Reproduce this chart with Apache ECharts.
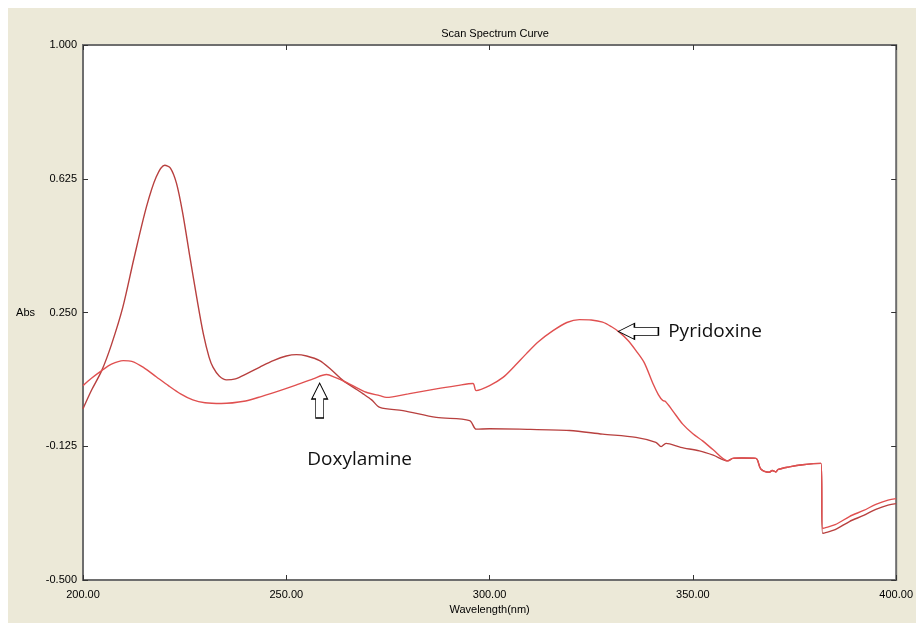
<!DOCTYPE html>
<html>
<head>
<meta charset="utf-8">
<script src="https://cdn.jsdelivr.net/npm/echarts@6/dist/echarts.min.js"></script>
<style>
  html, body { margin: 0; padding: 0; background: #fff; }
  #chart { width: 916px; height: 623px; }
</style>
</head>
<body>
<div id="chart"></div>
<script>
// tick labels
const xTicks = [200, 250, 300, 350, 400]
const yTicks = [-0.5, -0.125, 0.25, 0.625, 1.0]

// spectrum with the big 220 nm peak
const spec1Wl = [200, 202, 204.6, 207, 209.8, 212.5, 215.6, 218, 220.1, 221.5, 223, 224.5, 226.3, 228, 229.6, 231, 232, 233.5, 235.3, 237.5, 240.2, 243.5, 246.8, 250, 252.5, 255, 258.2, 261, 264, 266.5, 268.9, 271, 273, 278.7, 286.9, 295.1, 296.7, 300, 307.4, 319.7, 327.8, 336, 340.9, 342.2, 343.4, 347, 351.6, 355, 358.6, 359.8, 362, 365.5, 366.7, 368.8, 369.5, 370.4, 371, 373.7, 377, 381.5, 381.9, 385, 388.5, 392, 395, 398, 400]
const spec1Abs = [-0.02, 0.03, 0.087, 0.16, 0.265, 0.4, 0.546, 0.63, 0.663, 0.655, 0.612, 0.53, 0.405, 0.29, 0.19, 0.125, 0.096, 0.072, 0.061, 0.064, 0.078, 0.097, 0.115, 0.128, 0.132, 0.128, 0.115, 0.09, 0.059, 0.04, 0.022, 0.005, -0.016, -0.025, -0.044, -0.053, -0.077, -0.076, -0.077, -0.081, -0.091, -0.1, -0.114, -0.126, -0.117, -0.128, -0.138, -0.15, -0.166, -0.159, -0.158, -0.159, -0.189, -0.198, -0.193, -0.197, -0.19, -0.183, -0.177, -0.173, -0.369, -0.359, -0.336, -0.319, -0.302, -0.29, -0.286]

// spectrum with the 323 nm band
const spec2Wl = [200, 202, 204.6, 207, 209.9, 212, 215, 218, 221, 224, 227, 230, 234, 240, 244, 248.4, 252, 256.6, 259.9, 262, 264.8, 268, 270, 273, 274.6, 280, 286.9, 292, 295.9, 296.7, 300, 303.3, 306, 309, 312, 315.6, 319, 322.1, 325, 327.8, 330, 331.9, 334, 336, 338, 340.2, 341.5, 342.6, 343.2, 345, 347.5, 350, 352.4, 355, 358.6, 359.8, 362, 365.5, 366.7, 368.8, 369.5, 370.4, 371, 373.7, 377, 381.5, 381.9, 385, 388.5, 392, 395, 398, 400]
const spec2Abs = [0.045, 0.065, 0.087, 0.105, 0.115, 0.113, 0.095, 0.07, 0.045, 0.022, 0.005, -0.003, -0.005, 0.002, 0.015, 0.031, 0.045, 0.064, 0.076, 0.068, 0.054, 0.035, 0.025, 0.017, 0.012, 0.022, 0.036, 0.045, 0.051, 0.031, 0.045, 0.068, 0.098, 0.134, 0.168, 0.199, 0.222, 0.23, 0.229, 0.223, 0.21, 0.195, 0.172, 0.143, 0.11, 0.05, 0.02, 0.003, 0.001, -0.025, -0.063, -0.09, -0.11, -0.135, -0.166, -0.159, -0.158, -0.159, -0.189, -0.198, -0.193, -0.197, -0.19, -0.183, -0.177, -0.173, -0.355, -0.345, -0.322, -0.305, -0.288, -0.276, -0.272]

const spec1 = spec1Wl.map((w, i) => [w, spec1Abs[i]])
const spec2 = spec2Wl.map((w, i) => [w, spec2Abs[i]])

const labelFont = { fontFamily: 'Liberation Sans', fontSize: 11, color: '#000' }
const noteFont = { fontFamily: 'Open Sans', fontSize: 19, color: '#111' }

var myChart = echarts.init(document.getElementById('chart'))
var option = {
  animation: false,
  backgroundColor: '#fff',
  graphic: [
    { type: 'rect', z: -10, shape: { x: 8, y: 8, width: 908, height: 615 }, style: { fill: '#ece9d8' } }
  ],
  title: {
    text: 'Scan Spectrum Curve',
    left: 490,
    top: 23,
    textAlign: 'center',
    textStyle: { fontFamily: 'Liberation Sans', fontSize: 11, fontWeight: 'normal', color: '#000' }
  },
  grid: {
    left: 83, right: 19, top: 45, bottom: 43,
    show: true,
    backgroundColor: '#fff',
    borderColor: '#6e6e6e',
    borderWidth: 2
  },
  xAxis: [
    {
      type: 'value', min: 200, max: 400,
      name: 'Wavelength(nm)', nameLocation: 'middle', nameGap: 21,
      nameTextStyle: labelFont,
      axisLine: { show: false, onZero: false },
      axisTick: { show: true, inside: true, length: 5, customValues: xTicks, lineStyle: { color: '#333' } },
      axisLabel: { customValues: xTicks, margin: 9, formatter: v => v.toFixed(2), ...labelFont },
      splitLine: { show: false }
    },
    {
      type: 'value', min: 200, max: 400, position: 'top',
      axisLine: { show: false, onZero: false },
      axisTick: { show: true, inside: true, length: 5, customValues: xTicks, lineStyle: { color: '#333' } },
      axisLabel: { show: false },
      splitLine: { show: false }
    }
  ],
  yAxis: [
    {
      type: 'value', min: -0.5, max: 1.0,
      name: 'Abs', nameLocation: 'middle', nameGap: 48, nameRotate: 0,
      nameTextStyle: labelFont,
      axisLine: { show: false, onZero: false },
      axisTick: { show: true, inside: true, length: 5, customValues: yTicks, lineStyle: { color: '#333' } },
      axisLabel: { customValues: yTicks, margin: 6, formatter: v => v.toFixed(3), ...labelFont },
      splitLine: { show: false }
    },
    {
      type: 'value', min: -0.5, max: 1.0, position: 'right',
      axisLine: { show: false, onZero: false },
      axisTick: { show: true, inside: true, length: 5, customValues: yTicks, lineStyle: { color: '#333' } },
      axisLabel: { show: false },
      splitLine: { show: false }
    }
  ],
  series: [
    {
      type: 'line',
      data: spec1,
      showSymbol: false,
      smooth: 0.3,
      lineStyle: { color: '#b8403f', width: 1.4 }
    },
    {
      type: 'line',
      data: spec2,
      showSymbol: false,
      smooth: 0.3,
      lineStyle: { color: '#e05050', width: 1.4 },
      markPoint: {
        silent: true,
        symbolKeepAspect: false,
        itemStyle: { color: '#fff', borderColor: '#000', borderWidth: 1 },
        data: [
          {
            coord: [336.6, 0.197],
            symbol: 'path://M0,8 L16,0 L16,4 L40,4 L40,12 L16,12 L16,16 Z',
            symbolSize: [40, 16],
            label: { show: true, position: 'right', distance: 9, formatter: 'Pyridoxine', ...noteFont }
          },
          {
            coord: [258.2, 0.003],
            symbol: 'path://M8,0 L16,16 L12,16 L12,35 L4,35 L4,16 L0,16 Z',
            symbolSize: [16, 35],
            label: { show: true, position: 'bottom', distance: 31, offset: [40, 0], formatter: 'Doxylamine', ...noteFont }
          }
        ]
      }
    }
  ]
}
option && myChart.setOption(option)
</script>
</body>
</html>
